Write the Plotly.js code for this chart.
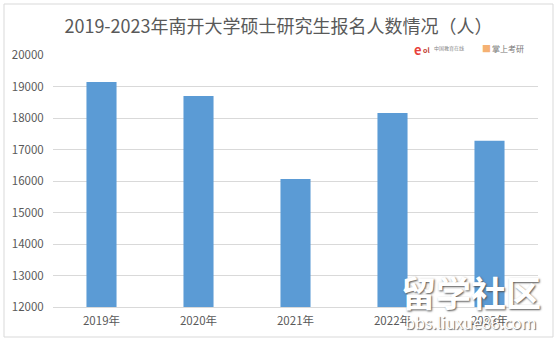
<!DOCTYPE html>
<html>
<head>
<meta charset="utf-8">
<script src="https://cdn.plot.ly/plotly-3.0.1.min.js"></script>
<style>
html,body{margin:0;padding:0;background:#fff;}
#chart{width:557px;height:341px;}
</style>
</head>
<body>
<div id="chart"></div>
<script>
var categories = ["2019年", "2020年", "2021年", "2022年", "2023年"];
var applicants = [19140, 18695, 16060, 18155, 17275];
var yTicks = [12000, 13000, 14000, 15000, 16000, 17000, 18000, 19000, 20000];
var titleText = "2019-2023年南开大学硕士研究生报名人数情况（人）";

var font = '"Noto Sans CJK SC", "Noto Sans", sans-serif';
var plotL = 53, plotR = 538, plotT = 55, plotB = 307, W = 557, H = 341;
function px(x){ return (x - plotL) / (plotR - plotL); }
function py(y){ return (plotB - y) / (plotB - plotT); }

var trace = {
  type: "bar",
  x: categories,
  y: applicants,
  marker: {color: "#5b9bd5"},
  hoverinfo: "x+y"
};

var layout = {
  width: W, height: H,
  margin: {l: plotL, r: W - plotR, t: plotT, b: H - plotB, pad: 0},
  paper_bgcolor: "#ffffff",
  plot_bgcolor: "#ffffff",
  bargap: 0.69,
  showlegend: false,
  font: {family: font, color: "#595959", size: 12},
  title: {
    text: titleText,
    font: {family: font, size: 18, color: "#595959"},
    x: 0.5, xanchor: "center",
    y: 1 - 27 / H, yanchor: "middle"
  },
  xaxis: {
    type: "category",
    showgrid: false,
    showline: true,
    linecolor: "#d9d9d9",
    linewidth: 1,
    ticks: "outside",
    ticklen: 3,
    tickcolor: "rgba(0,0,0,0)",
    tickfont: {family: font, size: 11.5, color: "#595959"},
    fixedrange: true
  },
  yaxis: {
    range: [12000, 20000],
    tickvals: yTicks,
    ticktext: yTicks.map(String),
    showgrid: true,
    gridcolor: "#d9d9d9",
    gridwidth: 1,
    zeroline: false,
    showline: false,
    ticks: "outside",
    ticklen: 6,
    tickcolor: "rgba(0,0,0,0)",
    tickfont: {family: font, size: 11.5, color: "#595959"},
    fixedrange: true
  },
  shapes: [{
    type: "rect", xref: "paper", yref: "paper",
    x0: px(4), x1: px(553), y0: py(337), y1: py(4),
    line: {color: "#d9d9d9", width: 1}, fillcolor: "rgba(0,0,0,0)", layer: "below"
  }],
  annotations: [
    {xref: "paper", yref: "paper", x: px(412), y: py(49), xanchor: "left", yanchor: "middle",
     text: "<b>e</b>", showarrow: false, font: {family: font, size: 13, color: "#e8413c"}},
    {xref: "paper", yref: "paper", x: px(421), y: py(50), xanchor: "left", yanchor: "middle",
     text: "<b>ol</b>", showarrow: false, font: {family: font, size: 7, color: "#c0392b"}},
    {xref: "paper", yref: "paper", x: px(432), y: py(48), xanchor: "left", yanchor: "middle",
     text: "中国教育在线", showarrow: false, font: {family: font, size: 5, color: "#888888"}},
    {xref: "paper", yref: "paper", x: px(480), y: py(48), xanchor: "left", yanchor: "middle",
     text: "■", showarrow: false, font: {family: font, size: 9, color: "#f5b173"}},
    {xref: "paper", yref: "paper", x: px(490), y: py(48), xanchor: "left", yanchor: "middle",
     text: "掌上考研", showarrow: false, font: {family: font, size: 8, color: "#777777"}},
    {xref: "paper", yref: "paper", x: px(471), y: py(291), xanchor: "center", yanchor: "middle",
     text: "<b>留学社区</b>", showarrow: false,
     font: {family: font, size: 35, color: "#ffffff", shadow: "1px 1px 2px #555555"}},
    {xref: "paper", yref: "paper", x: px(470), y: py(322), xanchor: "center", yanchor: "middle",
     text: "bbs.liuxue86.com", showarrow: false,
     font: {family: font, size: 16, color: "#ffffff", shadow: "1px 1px 1px #666666"}}
  ]
};

Plotly.newPlot("chart", [trace], layout, {displayModeBar: false, staticPlot: true});
</script>
</body>
</html>
